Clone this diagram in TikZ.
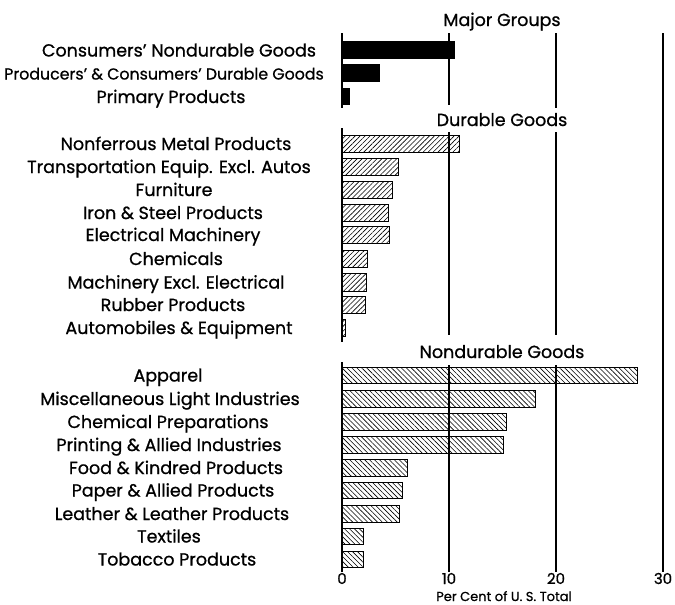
\documentclass[tikz,border=0pt]{standalone}
\usepackage{fontspec}
\setmainfont[FakeBold=0.8]{Poppins}
\usetikzlibrary{patterns.meta}

\begin{document}
\begin{tikzpicture}[
    x=1pt, y=-1pt,
    catlabel/.style={anchor=base, inner sep=0pt, font=\fontsize{17.5}{17.5}\selectfont},
    head/.style={anchor=base, inner sep=0pt, font=\fontsize{17.5}{17.5}\selectfont},
    tick/.style={anchor=base, inner sep=0pt, font=\fontsize{15}{15}\selectfont},
    gridline/.style={line width=1.2pt},
    major/.style={draw, line width=1pt, fill=black},
    durable/.style={draw, line width=1pt,
                    pattern={Lines[angle=45, distance=3.5pt, line width=0.6pt]}},
    nondurable/.style={draw, line width=1pt,
                    pattern={Lines[angle=-45, distance=3.5pt, line width=0.6pt]}}
]
\useasboundingbox (0,0) rectangle (675,605);

% grid
\draw[gridline, line width=1.5pt] (342,33) -- (342,108) (342,128) -- (342,342) (342,362) -- (342,572);
\draw[gridline] (449,33) -- (449,105) (449,132) -- (449,335) (449,365) -- (449,572);
\draw[gridline] (556,33) -- (556,108) (556,132) -- (556,335) (556,365) -- (556,572);
\draw[gridline] (663,33) -- (663,572);

% headers
\node[head] (hmajor) at (502,26)  {Major Groups};
\node[head] (hdur)   at (502,126) {Durable Goods};
\node[head] (hnon)   at (502,358) {Nondurable Goods};

% major groups
\node[catlabel] (cng)  at (179,56.5) {Consumers' Nondurable Goods};
\node[catlabel, font=\fontsize{15.8}{15.8}\selectfont] (pcdg) at (164,79.5) {Producers' \& Consumers' Durable Goods};
\node[catlabel] (pp)   at (171,103)  {Primary Products};
\draw[major] (342,41) rectangle (454,58);
\draw[major] (342,64) rectangle (379,81);
\draw[major] (342,88) rectangle (349,104);

% durable goods
\node[catlabel] (nfm)  at (176,150) {Nonferrous Metal Products};
\node[catlabel] (trq)  at (169,173) {Transportation Equip. Excl. Autos};
\node[catlabel] (fur)  at (174,196) {Furniture};
\node[catlabel] (isp)  at (173,219) {Iron \& Steel Products};
\node[catlabel] (elm)  at (173,241) {Electrical Machinery};
\node[catlabel] (chm)  at (176,265) {Chemicals};
\node[catlabel] (mch)  at (176,288.5) {Machinery Excl. Electrical};
\node[catlabel] (rub)  at (173,311) {Rubber Products};
\node[catlabel] (aut)  at (179,334) {Automobiles \& Equipment};
\draw[durable] (342,135) rectangle (459,152);
\draw[durable] (342,158) rectangle (398,175);
\draw[durable] (342,181) rectangle (392,198);
\draw[durable] (342,204) rectangle (388,221);
\draw[durable] (342,226) rectangle (389,243);
\draw[durable] (342,250) rectangle (367,267);
\draw[durable] (342,273) rectangle (366,291);
\draw[durable] (342,296) rectangle (365,313);
\draw[durable] (342,319) rectangle (345,336);

% nondurable goods
\node[catlabel] (app)  at (168,381.5) {Apparel};
\node[catlabel] (mli)  at (170,405)   {Miscellaneous Light Industries};
\node[catlabel] (cpr)  at (168,428)   {Chemical Preparations};
\node[catlabel] (pai)  at (169,451)   {Printing \& Allied Industries};
\node[catlabel] (fkp)  at (176,474)   {Food \& Kindred Products};
\node[catlabel] (pap)  at (173,496.5) {Paper \& Allied Products};
\node[catlabel] (llp)  at (172,520)   {Leather \& Leather Products};
\node[catlabel] (tex)  at (169,542.5) {Textiles};
\node[catlabel] (tob)  at (177,565.5) {Tobacco Products};
\draw[nondurable] (342,367) rectangle (637,383);
\draw[nondurable] (342,390) rectangle (535,407);
\draw[nondurable] (342,413) rectangle (506,430);
\draw[nondurable] (342,436) rectangle (503,453);
\draw[nondurable] (342,459) rectangle (407,476);
\draw[nondurable] (342,482) rectangle (402,498);
\draw[nondurable] (342,505) rectangle (399,522);
\draw[nondurable] (342,528) rectangle (363,544);
\draw[nondurable] (342,551) rectangle (363,567);

% axis
\node[tick] (t0)  at (342,584) {0};
\node[tick] (t10) at (449,584) {10};
\node[tick] (t20) at (556,584) {20};
\node[tick] (t30) at (663,584) {30};
\node[anchor=base, inner sep=0pt, font=\fontsize{13}{13}\selectfont] (axtitle) at (504,601) {Per Cent of U. S. Total};
\end{tikzpicture}
\end{document}
